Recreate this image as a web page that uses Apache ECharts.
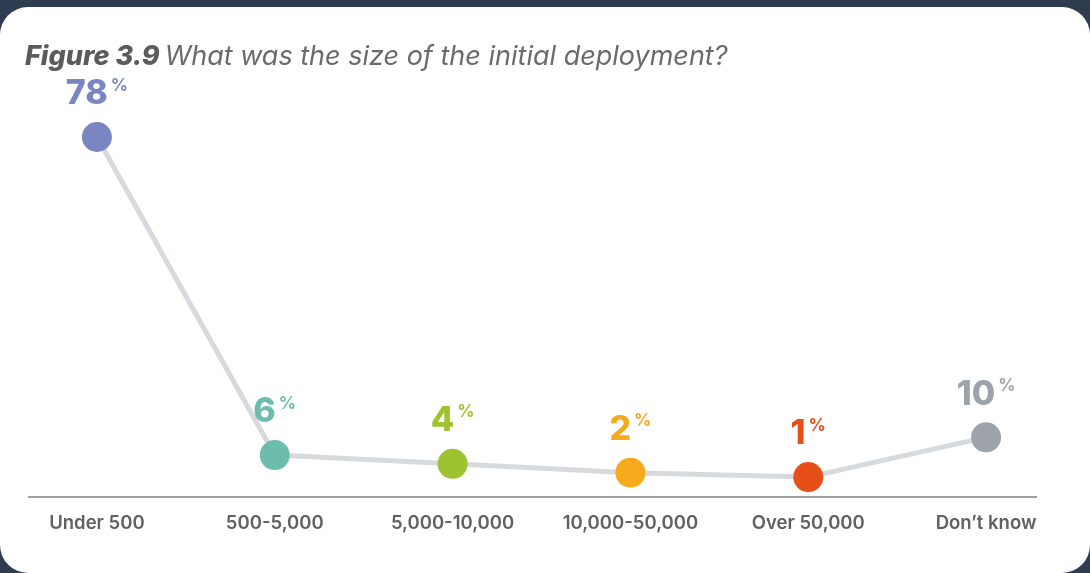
<!DOCTYPE html>
<html>
<head>
<meta charset="utf-8">
<script src="https://cdn.jsdelivr.net/npm/echarts@6/dist/echarts.min.js"></script>
<style>
  html, body { margin: 0; padding: 0; background: #2f3c4f; }
  #card { position: absolute; left: 0; top: 7px; width: 1090px; height: 566px; background: #fff; border-radius: 28px; overflow: hidden; }
  #chart { width: 1090px; height: 573px; position: absolute; left: 0; top: -7px; }
</style>
</head>
<body>
<div id="card"><div id="chart"></div></div>
<script>
// Size of the initial deployment, share of respondents (%)
const categories = ['Under 500', '500-5,000', '5,000-10,000', '10,000-50,000', 'Over 50,000', 'Don\u2019t know'];
const shares = [78, 6, 4, 2, 1, 10];
const pointColors = ['#7a86c1', '#6dbdac', '#9dc430', '#f5ab1d', '#e74f19', '#9ea3ab'];

const FONT = 'Inter';
const chart = echarts.init(document.getElementById('chart'));

const data = shares.map((v, i) => ({
  value: v,
  itemStyle: { color: pointColors[i] },
  label: {
    rich: {
      n: { fontSize: 34, fontWeight: 800, color: pointColors[i], fontFamily: FONT, padding: [0, 3, 0, 0] },
      p: { fontSize: 17, fontWeight: 700, color: pointColors[i], fontFamily: FONT, verticalAlign: 'top', padding: [0, 0, 13, 0] }
    }
  }
}));

chart.setOption({
  animation: false,
  title: {
    text: '{b|Figure 3.9} {r|What was the size of the initial deployment?}',
    left: 20,
    top: 38,
    textStyle: {
      rich: {
        b: { fontSize: 27, fontWeight: 800, fontStyle: 'italic', color: '#5b5b5d', fontFamily: FONT },
        r: { fontSize: 27, fontWeight: 400, fontStyle: 'italic', color: '#6b6b6d', fontFamily: FONT }
      }
    }
  },
  grid: { left: 8, right: 15, top: 137, bottom: 76 },
  xAxis: {
    type: 'category',
    data: categories,
    boundaryGap: true,
    axisLine: { show: false },
    axisTick: { show: false },
    axisLabel: { color: '#606163', fontSize: 18.5, fontWeight: 600, fontFamily: FONT, margin: 17 }
  },
  yAxis: {
    type: 'value',
    min: -3.5,
    max: 78,
    show: false
  },
  graphic: [{
    type: 'line',
    shape: { x1: 28, y1: 497, x2: 1037, y2: 497 },
    style: { stroke: '#808080', lineWidth: 1.5 },
    z: 0
  }],
  series: [{
    type: 'line',
    data: data,
    symbol: 'circle',
    symbolSize: 30,
    lineStyle: { color: '#d6d9de', width: 5 },
    label: {
      show: true,
      position: 'top',
      distance: 11,
      formatter: p => '{n|' + p.value + '}{p|%}'
    }
  }]
});
</script>
</body>
</html>
